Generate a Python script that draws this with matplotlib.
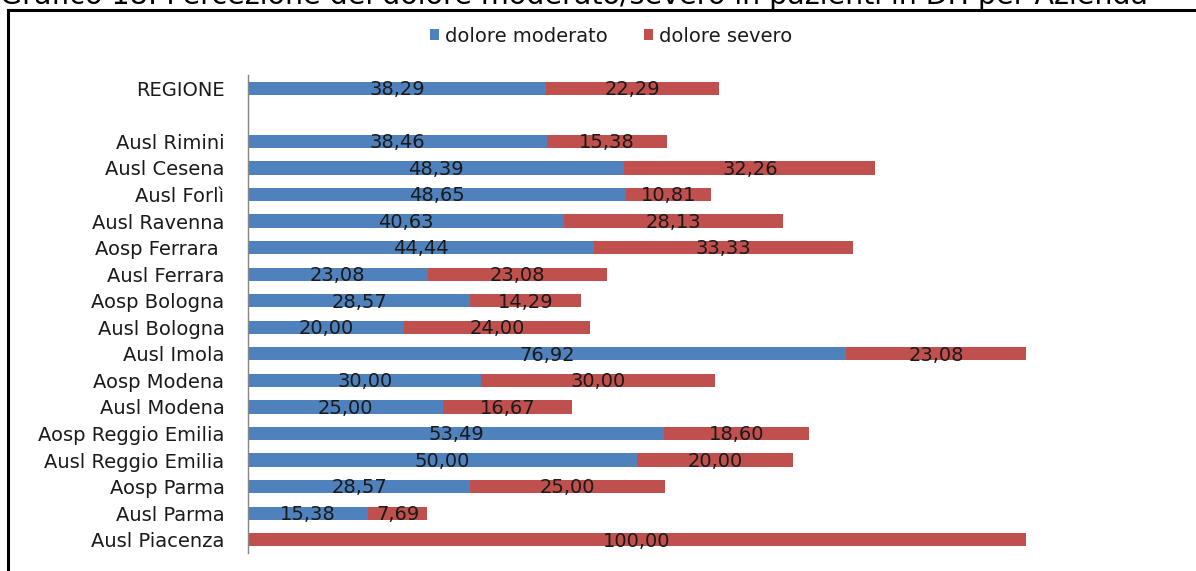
import matplotlib
matplotlib.use("Agg")
import matplotlib.pyplot as plt
from matplotlib.lines import Line2D
import numpy as np

categories = ["REGIONE", "", "Ausl Rimini", "Ausl Cesena", "Ausl Forlì", "Ausl Ravenna",
              "Aosp Ferrara ", "Ausl Ferrara", "Aosp Bologna", "Ausl Bologna", "Ausl Imola",
              "Aosp Modena", "Ausl Modena", "Aosp Reggio Emilia", "Ausl Reggio Emilia",
              "Aosp Parma", "Ausl Parma", "Ausl Piacenza"]
moderato = [38.29, None, 38.46, 48.39, 48.65, 40.63, 44.44, 23.08, 28.57, 20.00, 76.92,
            30.00, 25.00, 53.49, 50.00, 28.57, 15.38, 0.0]
severo = [22.29, None, 15.38, 32.26, 10.81, 28.13, 33.33, 23.08, 14.29, 24.00, 23.08,
          30.00, 16.67, 18.60, 20.00, 25.00, 7.69, 100.00]
series_names = ["dolore moderato", "dolore severo"]
title = "Grafico 18: Percezione del dolore moderato/severo in pazienti in DH per Azienda"

blue = "#4F81BD"
red = "#C0504D"

fig = plt.figure(figsize=(11.96, 5.71), dpi=100)
ax = fig.add_axes([248/1196, 1-553/571, (1026-248)/1196, (553-75)/571])

y = np.arange(len(categories))
mod = np.array([np.nan if v is None else v for v in moderato])
sev = np.array([np.nan if v is None else v for v in severo])

h = 0.5
b1 = ax.barh(y, np.nan_to_num(mod), height=h, color=blue, label=series_names[0])
b2 = ax.barh(y, np.nan_to_num(sev), left=np.nan_to_num(mod), height=h, color=red, label=series_names[1])

def fmt(v):
    return f"{v:.2f}".replace(".", ",")

vfs = 14
for i in range(len(categories)):
    if np.isnan(mod[i]):
        continue
    if mod[i] > 0:
        ax.text(mod[i]/2, y[i] + 0.05, fmt(mod[i]), ha="center", va="center", fontsize=vfs, color="#1a1a1a")
    if sev[i] > 0:
        ax.text(mod[i] + sev[i]/2, y[i] + 0.05, fmt(sev[i]), ha="center", va="center", fontsize=vfs, color="#1a1a1a")

ax.set_xlim(0, 100)
ax.set_ylim(len(categories)-0.5, -0.5)
ax.set_yticks(y)
ax.set_yticklabels(categories, fontsize=14, color="#1a1a1a")
ax.tick_params(axis="y", length=0, pad=17)
ax.set_xticks([])
for s in ["top", "right", "bottom"]:
    ax.spines[s].set_visible(False)
ax.spines["left"].set_color("#868686")
ax.spines["left"].set_linewidth(1)

leg = fig.legend(handles=[b1, b2], labels=series_names, loc="center", bbox_to_anchor=(611/1196, 1-36/571),
                 ncol=2, frameon=False, fontsize=14, handlelength=0.45, handleheight=0.45,
                 handletextpad=0.3, columnspacing=1.9)
for t in leg.get_texts():
    t.set_color("#1a1a1a")

fig.text(0.0, 1 - 4.5/571, title, ha="left", va="baseline", fontsize=20.5, color="black")

fig.add_artist(Line2D([8/1196, 8/1196], [0, 1-10/571], transform=fig.transFigure, color="black", lw=2.2))
fig.add_artist(Line2D([8/1196, 1], [1-10/571, 1-10/571], transform=fig.transFigure, color="black", lw=2.2))

fig.savefig("out.png", dpi=100)
